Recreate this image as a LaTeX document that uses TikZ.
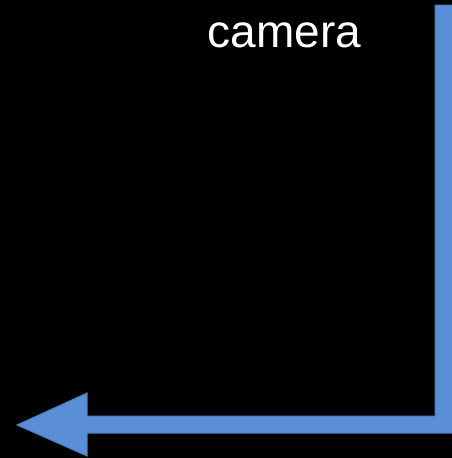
\documentclass[tikz,border=0pt]{standalone}
\usepackage{fontspec}
\setmainfont{Liberation Sans}
\definecolor{arrowfill}{HTML}{5A8ED6}
\definecolor{arrowline}{HTML}{4A7EBB}
\tikzset{
  bentarrow/.style={fill=arrowfill, draw=arrowline, line width=1pt, line join=miter},
  label/.style={text=white, font=\fontsize{46}{50}\selectfont, inner sep=0pt, anchor=base}
}
\begin{document}
\begin{tikzpicture}[x=1pt,y=-1pt]
  \fill[black] (0,0) rectangle (452,458);
  \useasboundingbox (0,0) rectangle (452,458);
  \node[label] (cam) at (284.5,47) {camera};
  \draw[bentarrow] (435,5) -- (453,5) -- (453,433) -- (87,433) -- (87,456)
     -- (17,425) -- (87,393) -- (87,416) -- (435,416) -- cycle;
\end{tikzpicture}
\end{document}
